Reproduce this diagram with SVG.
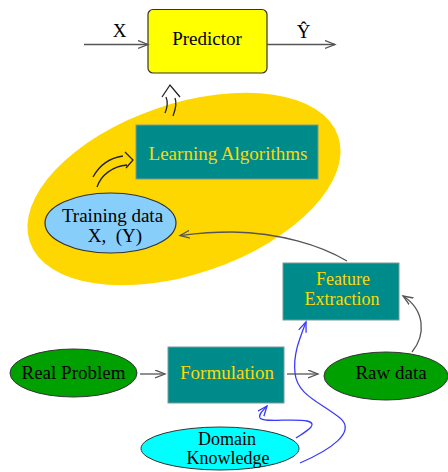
<svg xmlns="http://www.w3.org/2000/svg" width="448" height="472" viewBox="0 0 448 472">
<style>
text{font-family:"Liberation Serif","DejaVu Serif",serif;font-size:19px;text-anchor:middle}
.two{font-size:18px}
.box{fill:#008b8b;stroke:#7a9a9a;stroke-width:1}
.gold{fill:#ffd700}
.dark{fill:#000}
.arr{fill:none;stroke:#555;stroke-width:1.3}
.blue{fill:none;stroke:#3a3aff;stroke-width:1.3}
.hol{fill:none;stroke:#222;stroke-width:1.3}
</style>
<defs>
<marker id="ah" markerUnits="userSpaceOnUse" markerWidth="12" markerHeight="10" refX="10" refY="4.5" orient="auto">
<path d="M0,0.5 L10,4.5 L0,8.5" fill="none" stroke="#555" stroke-width="1.3"/>
</marker>
<marker id="ahb" markerUnits="userSpaceOnUse" markerWidth="12" markerHeight="10" refX="10" refY="4.5" orient="auto">
<path d="M0,0.5 L10,4.5 L0,8.5" fill="none" stroke="#3a3aff" stroke-width="1.3"/>
</marker>
</defs>
<rect width="448" height="472" fill="#fff"/>
<g id="learning-region">
<ellipse cx="184" cy="189" rx="163" ry="85" transform="rotate(-19 184 189)" fill="#ffd700"/>
</g>
<g id="predictor">
<rect x="148" y="9.5" width="119" height="63.5" rx="5" fill="#ffff00" stroke="#333" stroke-width="1.2"/>
<text x="207" y="45" class="dark">Predictor</text>
</g>
<g id="learning-algorithms">
<rect class="box" x="136" y="125" width="182" height="54"/>
<text x="228" y="160" class="gold">Learning Algorithms</text>
</g>
<g id="training-data">
<ellipse cx="110.5" cy="223" rx="65.5" ry="30" fill="#87cefa" stroke="#333" stroke-width="1.2"/>
<text x="112.5" y="222" class="dark">Training data</text>
<text x="115" y="242" class="dark" xml:space="preserve">X,  (Y)</text>
</g>
<g id="feature-extraction">
<rect class="box" x="283" y="263" width="116" height="57"/>
<text x="343" y="285" class="gold two">Feature</text>
<text x="342" y="304.5" class="gold two">Extraction</text>
</g>
<g id="real-problem">
<ellipse cx="73.5" cy="373" rx="63.5" ry="24" fill="#00a000" stroke="#333" stroke-width="1"/>
<text x="73.5" y="379" class="dark">Real Problem</text>
</g>
<g id="formulation">
<rect class="box" x="168" y="347" width="116" height="56"/>
<text x="227" y="379" class="gold">Formulation</text>
</g>
<g id="raw-data">
<ellipse cx="386" cy="376" rx="62" ry="24" fill="#00a000" stroke="#333" stroke-width="1"/>
<text x="391" y="379" class="dark">Raw data</text>
</g>
<g id="domain-knowledge">
<ellipse cx="220" cy="448.5" rx="79" ry="21.5" fill="#00ffff" stroke="#333" stroke-width="1"/>
<text x="227" y="444.5" class="dark two">Domain</text>
<text x="228" y="464" class="dark two">Knowledge</text>
</g>
<g id="labels">
<text x="119.5" y="37" class="dark">X</text>
<text x="303.5" y="38" class="dark">Ŷ</text>
</g>
<g id="connectors">
<path class="arr" d="M84,44.5 L148,44.5" marker-end="url(#ah)"/>
<path class="arr" d="M267,44.5 L335,44.5" marker-end="url(#ah)"/>
<path class="arr" d="M140,374 L165,374" marker-end="url(#ah)"/>
<path class="arr" d="M287,374 L318,374" marker-end="url(#ah)"/>
<path class="arr" d="M347,261 C320,245 280,233 232,232 C207,232 192,234 180,235.5" marker-end="url(#ah)"/>
<path class="arr" d="M412,352 C426,335 425,310 403,296" marker-end="url(#ah)"/>
<path class="blue" d="M296,438 C305,432 320,424 307,421 C294,418 263,423 260,418 C258,414 263,411 267,406" marker-end="url(#ahb)"/>
<path class="blue" d="M300,463 C330,450 357,432 340,418 C320,402 297,395 295,373 C293,355 299,340 306,322" marker-end="url(#ahb)"/>
<path class="hol" d="M165,113 C168,106 168,102 166,97 M173,116 C176,108 177,103 175,98 M162,97 L170,85 L180,97"/>
<path class="hol" d="M93,177 C99,166 109,158 123,156 M97,187 C101,175 113,166 127,165 M125,152 L133,160 L126,168"/>
</g>
</svg>
